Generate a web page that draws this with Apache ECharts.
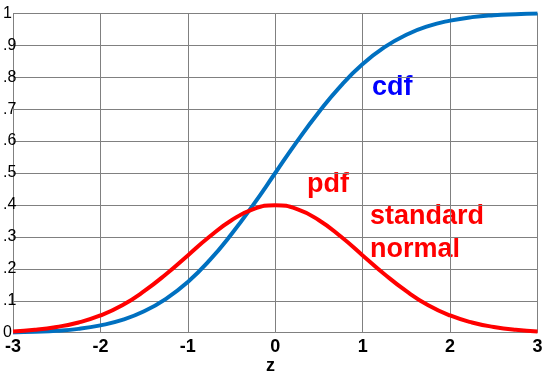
<!DOCTYPE html>
<html>
<head>
<meta charset="utf-8">
<script src="https://cdn.jsdelivr.net/npm/echarts@6/dist/echarts.min.js"></script>
<style>html,body{margin:0;padding:0;background:#fff}#c{width:551px;height:389px}</style>
</head>
<body>
<div id="c"></div>
<script>
var zValues = [-3,-2.75,-2.5,-2.25,-2,-1.75,-1.5,-1.25,-1,-0.75,-0.5,-0.25,0,0.25,0.5,0.75,1,1.25,1.5,1.75,2,2.25,2.5,2.75,3];
var pdfValues = [0.004,0.009,0.018,0.032,0.054,0.086,0.130,0.183,0.242,0.301,0.352,0.387,0.399,0.387,0.352,0.301,0.242,0.183,0.130,0.086,0.054,0.032,0.018,0.009,0.004];
var cdfValues = [0.001,0.003,0.006,0.012,0.023,0.040,0.067,0.106,0.159,0.227,0.309,0.401,0.500,0.599,0.691,0.773,0.841,0.894,0.933,0.960,0.977,0.988,0.994,0.997,0.999];
var yTickLabels = {'0':'0','0.1':'.1','0.2':'.2','0.3':'.3','0.4':'.4','0.5':'.5','0.6':'.6','0.7':'.7','0.8':'.8','0.9':'.9','1':'1'};

function pairs(xs, ys){ return xs.map(function(x,i){return [x, ys[i]];}); }

var chart = echarts.init(document.getElementById('c'), null, {renderer:'canvas'});
var font = '"Liberation Sans", Arial, sans-serif';
chart.setOption({
  animation:false,
  backgroundColor:'#ffffff',
  grid:{left:11.5, right:13.5, top:13.3, bottom:56.3, containLabel:false},
  xAxis:{
    type:'value', min:-3, max:3, interval:1,
    axisLine:{show:false}, axisTick:{show:false},
    splitLine:{show:true, lineStyle:{color:'#808080', width:1}},
    axisLabel:{color:'#000', fontFamily:font, fontWeight:'bold', fontSize:18, margin:5},
  },
  yAxis:{
    type:'value', min:0, max:1, interval:0.1,
    axisLine:{show:false}, axisTick:{show:false},
    splitLine:{show:true, lineStyle:{color:'#808080', width:1}},
    axisLabel:{color:'#000', fontFamily:font, fontSize:16, align:'left', verticalAlign:'middle', margin:10, padding:[0,0,8,0],
      formatter:function(v){ var k = String(Math.round(v*10)/10); return yTickLabels[k]; }}
  },
  series:[
    {type:'line', data:pairs(zValues, cdfValues), smooth:true, showSymbol:false, lineStyle:{color:'#0070c0', width:4}, z:3},
    {type:'line', data:pairs(zValues, pdfValues), smooth:true, showSymbol:false, lineStyle:{color:'#ff0000', width:4}, z:4}
  ],
  graphic:[
    {type:'text', left:372, top:74, style:{text:'cdf', fill:'#0000ff', font:'bold 27px '+font}},
    {type:'text', left:307, top:171, style:{text:'pdf', fill:'#ff0000', font:'bold 27px '+font}},
    {type:'text', left:370, top:203, style:{text:'standard', fill:'#ff0000', font:'bold 27px '+font}},
    {type:'text', left:370, top:236, style:{text:'normal', fill:'#ff0000', font:'bold 27px '+font}},
    {type:'text', left:266, top:357, style:{text:'z', fill:'#000', font:'bold 18px '+font}}
  ]
});
</script>
</body>
</html>
